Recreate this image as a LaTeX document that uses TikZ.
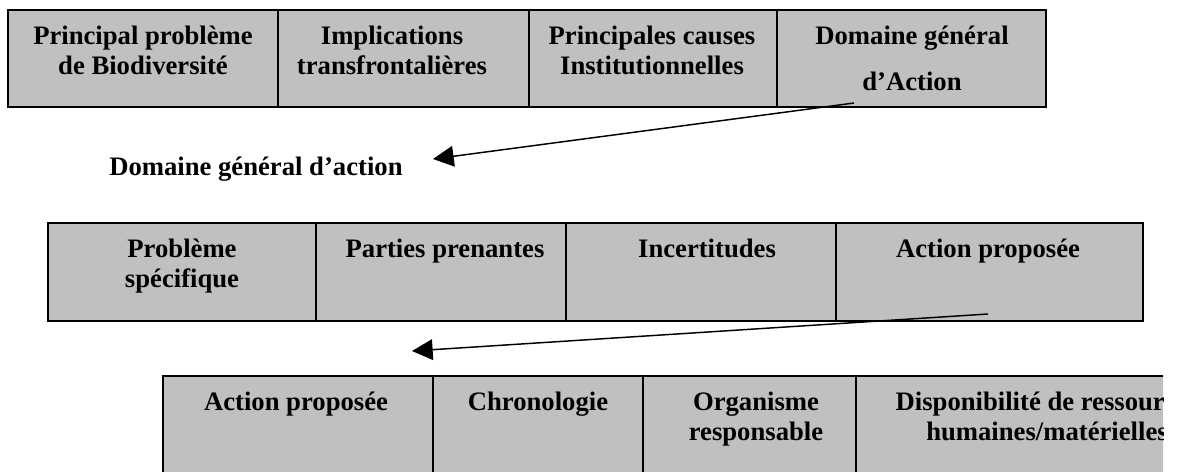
\documentclass[tikz,border=0pt]{standalone}
\usepackage{fontspec}
\setmainfont{Liberation Serif}
\usetikzlibrary{arrows.meta,fit}
\definecolor{cellgray}{RGB}{192,192,192}
\begin{document}
\begin{tikzpicture}[x=0.75pt,y=-0.75pt,
  cell/.style={draw=black, line width=1.4pt, fill=cellgray, inner sep=0pt},
  txt/.style={font=\fontsize{20}{24}\selectfont\bfseries, inner sep=0pt, anchor=base},
  arr/.style={line width=1.1pt, -{Triangle[length=15.5pt,width=15.5pt]}}]
\useasboundingbox (0,0) rectangle (1180,471);
% top table
\node[cell, fit={(8,10) (278,107)}] (t1) {};
\node[cell, fit={(278,10) (529,107)}] (t2) {};
\node[cell, fit={(529,10) (777,107)}] (t3) {};
\node[cell, fit={(777,10) (1046,107)}] (t4) {};
\node[txt] (t1a) at (143,44) {Principal problème};
\node[txt] (t1b) at (143,74) {de Biodiversité};
\node[txt] (t2a) at (392,44) {Implications};
\node[txt] (t2b) at (392,74) {transfrontalières};
\node[txt] (t3a) at (652,44) {Principales causes};
\node[txt] (t3b) at (652,74) {Institutionnelles};
\node[txt] (t4a) at (912,44) {Domaine général};
\node[txt] (t4b) at (912,90) {d’Action};
% label
\node[txt, anchor=base west] (lab) at (109,175) {Domaine général d’action};
% middle table
\node[cell, fit={(48,223) (316,321)}] (m1) {};
\node[cell, fit={(316,223) (566,321)}] (m2) {};
\node[cell, fit={(566,223) (836,321)}] (m3) {};
\node[cell, fit={(836,223) (1143,321)}] (m4) {};
\node[txt] (m1a) at (182,257) {Problème};
\node[txt] (m1b) at (182,287) {spécifique};
\node[txt] (m2a) at (445,257) {Parties prenantes};
\node[txt] (m3a) at (707,257) {Incertitudes};
\node[txt] (m4a) at (988,257) {Action proposée};
% bottom table (clipped)
\begin{scope}
\clip (0,0) rectangle (1163,471);
\node[cell, fit={(163,376) (433,520)}] (b1) {};
\node[cell, fit={(433,376) (643,520)}] (b2) {};
\node[cell, fit={(643,376) (856,520)}] (b3) {};
\node[cell, fit={(856,376) (1238,520)}] (b4) {};
\node[txt] (b1a) at (296,410) {Action proposée};
\node[txt] (b2a) at (538,410) {Chronologie};
\node[txt] (b3a) at (756,410) {Organisme};
\node[txt] (b3b) at (756,440) {responsable};
\node[txt] (b4a) at (1047,410) {Disponibilité de ressources};
\node[txt] (b4b) at (1047,440) {humaines/matérielles};
\end{scope}
% connectors
\coordinate (a1s) at (854,103);
\coordinate (a1e) at (433,159);
\coordinate (a2s) at (988,314);
\coordinate (a2e) at (412,351);
\draw[arr] (a1s) -- (a1e);
\draw[arr] (a2s) -- (a2e);
\end{tikzpicture}
\end{document}
